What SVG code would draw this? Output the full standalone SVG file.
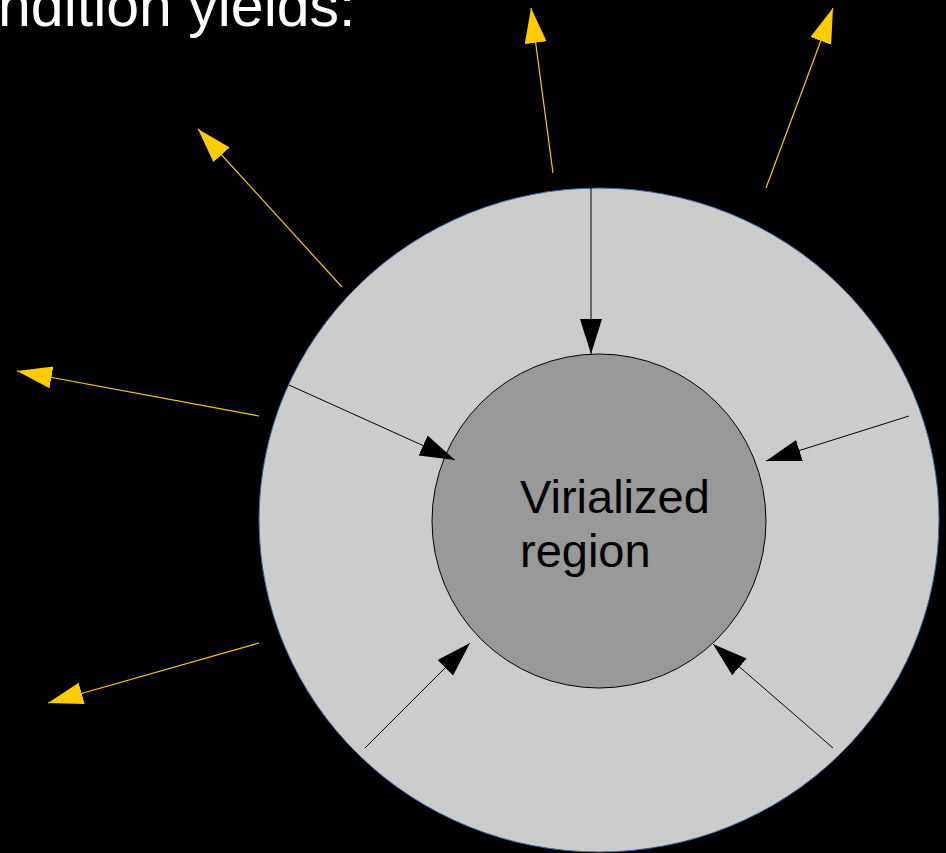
<svg xmlns="http://www.w3.org/2000/svg" width="946" height="853" viewBox="0 0 946 853">
<style>
.out{stroke:#ffcc00;stroke-width:1.2;fill:none;marker-end:url(#ya)}
.in{stroke:#000;stroke-width:1;fill:none;marker-end:url(#ba)}
text{font-family:"Liberation Sans",Arial,sans-serif}
</style>
<defs>
<marker id="ya" markerUnits="userSpaceOnUse" markerWidth="36" markerHeight="24" refX="35" refY="11" orient="auto" viewBox="0 0 36 24">
<path d="M0,0 L35,11 L0,22 z" fill="#ffcc00"/>
</marker>
<marker id="ba" markerUnits="userSpaceOnUse" markerWidth="36" markerHeight="24" refX="35" refY="11" orient="auto" viewBox="0 0 36 24">
<path d="M0,0 L35,11 L0,22 z" fill="#000"/>
</marker>
</defs>
<rect width="946" height="853" fill="#000"/>
<text x="-2" y="26" font-size="59" fill="#fff">ndition yields:</text>
<g id="outer">
<ellipse cx="599" cy="520" rx="340" ry="332" fill="#cccccc" stroke="#3465a4" stroke-width="1"/>
</g>
<g id="inner">
<circle cx="599" cy="521" r="167" fill="#999999" stroke="#000" stroke-width="1"/>
<text x="520" y="513" font-size="47" fill="#000">Virialized</text>
<text x="520" y="567" font-size="47" fill="#000">region</text>
</g>
<g id="connectors">
<line class="out" x1="553" y1="173" x2="531" y2="8"/>
<line class="out" x1="766" y1="188" x2="833" y2="8"/>
<line class="out" x1="342" y1="287" x2="198" y2="129"/>
<line class="out" x1="259" y1="416" x2="17" y2="371"/>
<line class="out" x1="259" y1="643" x2="48" y2="703"/>
<line class="in" x1="591" y1="188" x2="591" y2="354"/>
<line class="in" x1="289" y1="385" x2="455" y2="460"/>
<line class="in" x1="909" y1="416" x2="766" y2="461"/>
<line class="in" x1="365" y1="748" x2="470" y2="643"/>
<line class="in" x1="833" y1="748" x2="713" y2="644"/>
</g>
</svg>
